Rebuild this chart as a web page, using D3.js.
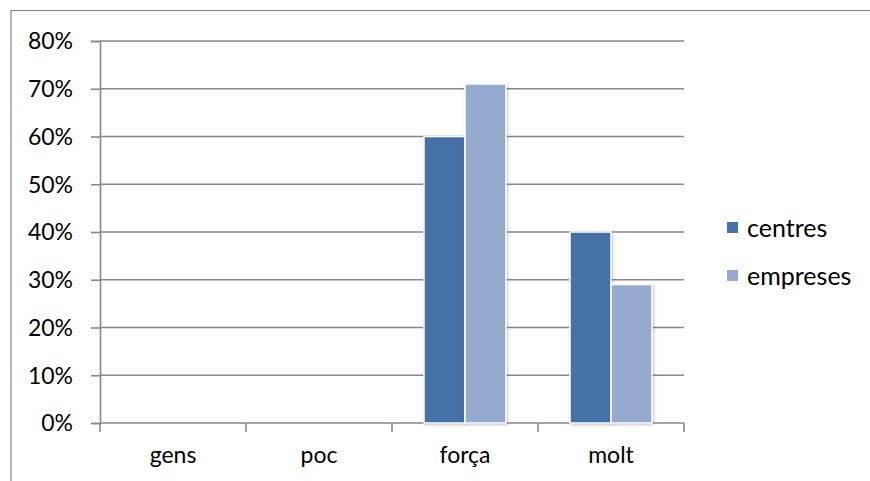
<!DOCTYPE html>
<html><head><meta charset="utf-8">
<script src="https://cdn.jsdelivr.net/npm/d3@7"></script>
<style>body{margin:0;background:#fff}svg{display:block}text{font-family:Lato,"Open Sans",sans-serif;fill:#000}</style>
</head><body><svg id="c" width="870" height="481"></svg>
<script>
const categories = ["gens","poc","força","molt"];
const seriesNames = ["centres","empreses"];
const centres = [0,0,0.60,0.40];
const empreses = [0,0,0.71,0.29];
const yTicks = [0,0.1,0.2,0.3,0.4,0.5,0.6,0.7,0.8];
const colors = ["#4471A7","#94AACF"];
const FS = 23, LFS = 25;

const svg = d3.select("#c");
const defs = svg.append("defs");
const f = defs.append("filter").attr("id","sh").attr("x","-20%").attr("y","-20%").attr("width","140%").attr("height","140%");
f.append("feDropShadow").attr("dx",1).attr("dy",1).attr("stdDeviation",1.5).attr("flood-color","#000").attr("flood-opacity",0.25);

// outer border
svg.append("rect").attr("x",11).attr("y",10.5).attr("width",880).attr("height",500)
  .attr("fill","none").attr("stroke","#888").attr("stroke-width",1.2);

const L=100, R=684, T=41, B=423;
const x = d3.scaleBand().domain(categories).range([L,R]);
const y = d3.scaleLinear().domain([0,0.8]).range([B,T]);

// gridlines
svg.append("g").selectAll("line").data(yTicks).join("line")
  .attr("x1",L).attr("x2",R).attr("y1",d=>y(d)).attr("y2",d=>y(d))
  .attr("stroke","#878787").attr("stroke-width",1.6);

// y axis
const ya = svg.append("g").attr("transform",`translate(${L},0)`)
  .call(d3.axisLeft(y).tickValues(yTicks).tickFormat(d3.format(".0%")).tickSize(9).tickPadding(18));
ya.attr("font-size",FS).attr("font-family",null);
ya.select(".domain").attr("stroke","#878787").attr("stroke-width",1.6);
ya.selectAll(".tick line").attr("stroke","#878787").attr("stroke-width",1.6);
ya.selectAll("text").attr("dy","0.34em");

// x axis
const xa = svg.append("g").attr("transform",`translate(0,${B})`)
  .call(d3.axisBottom(x).tickSize(0));
xa.attr("font-size",FS).attr("font-family",null);
xa.select(".domain").remove();
xa.selectAll("text").attr("y",40).attr("dy",0);
const bnd = categories.map(c=>x(c)).concat([R]);
svg.append("g").selectAll("line").data(bnd).join("line")
  .attr("x1",d=>d).attr("x2",d=>d).attr("y1",B).attr("y2",B+9)
  .attr("stroke","#878787").attr("stroke-width",1.6);

// bars
const inner = d3.scaleBand().domain(seriesNames).range([0,82]);
const off = (x.bandwidth()-82)/2;
const data = [centres,empreses];
seriesNames.forEach((s,i)=>{
  svg.append("g").selectAll("rect").data(categories.map((c,j)=>({c,v:data[i][j]})).filter(d=>d.v>0)).join("rect")
    .attr("x",d=>x(d.c)+off+inner(s))
    .attr("width",inner.bandwidth())
    .attr("y",d=>y(d.v))
    .attr("height",d=>B-y(d.v))
    .attr("fill",colors[i]).attr("stroke","#fff").attr("stroke-width",1.5)
    .attr("filter","url(#sh)");
});

// legend
const lg = svg.append("g").attr("transform","translate(727,222)");
seriesNames.forEach((s,i)=>{
  const g = lg.append("g").attr("transform",`translate(0,${i*48})`);
  g.append("rect").attr("width",11).attr("height",11).attr("fill",colors[i]);
  g.append("text").attr("x",20).attr("y",15).attr("font-size",LFS).text(s);
});
</script></body></html>
